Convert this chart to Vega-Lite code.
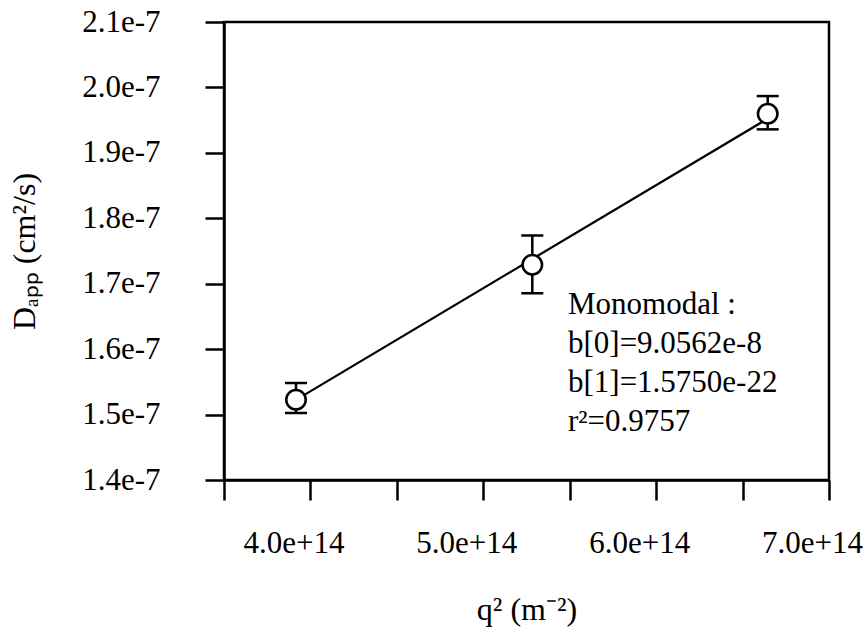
{
  "$schema": "https://vega.github.io/schema/vega-lite/v6.json",
  "width": 605,
  "height": 458,
  "autosize": "none",
  "padding": {"left": 224, "top": 22, "right": 39, "bottom": 148},
  "background": "white",
  "config": {
    "view": {"stroke": "black", "strokeWidth": 2.5},
    "font": "Liberation Serif",
    "axis": {
      "grid": false,
      "domainColor": "black",
      "domainWidth": 2.5,
      "tickColor": "black",
      "tickWidth": 2.5,
      "labelColor": "black",
      "titleColor": "black",
      "labelFont": "Liberation Serif",
      "titleFont": "Liberation Serif",
      "labelFontSize": 31,
      "titleFontSize": 32,
      "titleFontWeight": "normal",
      "labelOverlap": false,
      "labelFlush": false,
      "labelBound": false
    }
  },
  "datasets": {
    "points": [
      {"q2": 3.9165e14, "D": 1.5228e-7, "lo": 1.5025e-7, "hi": 1.5484e-7},
      {"q2": 5.2836e14, "D": 1.7289e-7, "lo": 1.6854e-7, "hi": 1.7737e-7},
      {"q2": 6.6454e14, "D": 1.9599e-7, "lo": 1.9359e-7, "hi": 1.9868e-7}
    ],
    "fit": [
      {"q2": 3.9165e14, "D": 1.5225e-7},
      {"q2": 6.6454e14, "D": 1.9523e-7}
    ],
    "note": [
      {"q2": 5.49e14, "D": 1.6544e-7, "label": "\u00a0\u00a0Monomodal :\nb[0]=9.0562e-8\nb[1]=1.5750e-22\nr²=0.9757"}
    ]
  },
  "encoding": {
    "x": {
      "field": "q2",
      "type": "quantitative",
      "title": "q² (m⁻²)",
      "scale": {"domain": [3.5e14, 7.0e14], "nice": false, "zero": false},
      "axis": {
        "values": [3.5e14, 4.0e14, 4.5e14, 5.0e14, 5.5e14, 6.0e14, 6.5e14, 7.0e14],
        "labelExpr": "datum.value % 1e14 === 0 ? format(datum.value / 1e14, '.1f') + 'e+14' : ''",
        "tickSize": 20,
        "labelPadding": 28,
        "labelOffset": -17,
        "titlePadding": 36
      }
    },
    "y": {
      "field": "D",
      "type": "quantitative",
      "title": "Dₐₚₚ (cm²/s)",
      "scale": {"domain": [1.4e-7, 2.1e-7], "nice": false, "zero": false},
      "axis": {
        "values": [1.4e-7, 1.5e-7, 1.6e-7, 1.7e-7, 1.8e-7, 1.9e-7, 2.0e-7, 2.1e-7],
        "labelExpr": "format(datum.value * 1e7, '.1f') + 'e-7'",
        "tickSize": 19,
        "labelPadding": 45,
        "titlePadding": 40
      }
    }
  },
  "layer": [
    {
      "data": {"name": "fit"},
      "mark": {"type": "line", "color": "black", "strokeWidth": 2.2}
    },
    {
      "data": {"name": "points"},
      "mark": {"type": "rule", "color": "black", "strokeWidth": 2.5},
      "encoding": {
        "y": {"field": "lo", "type": "quantitative", "title": "Dₐₚₚ (cm²/s)"},
        "y2": {"field": "hi"}
      }
    },
    {
      "data": {"name": "points"},
      "mark": {"type": "tick", "orient": "horizontal", "color": "black", "size": 22, "thickness": 2.5, "opacity": 1},
      "encoding": {
        "y": {"field": "lo", "type": "quantitative", "title": "Dₐₚₚ (cm²/s)"}
      }
    },
    {
      "data": {"name": "points"},
      "mark": {"type": "tick", "orient": "horizontal", "color": "black", "size": 22, "thickness": 2.5, "opacity": 1},
      "encoding": {
        "y": {"field": "hi", "type": "quantitative", "title": "Dₐₚₚ (cm²/s)"}
      }
    },
    {
      "data": {"name": "points"},
      "mark": {"type": "point", "shape": "circle", "size": 380, "filled": false, "fill": "white", "fillOpacity": 1, "stroke": "black", "strokeWidth": 2.5, "opacity": 1}
    },
    {
      "data": {"name": "note"},
      "mark": {"type": "text", "align": "left", "baseline": "alphabetic", "fontSize": 31, "lineHeight": 39, "lineBreak": "\n", "font": "Liberation Serif", "color": "black"},
      "encoding": {
        "text": {"field": "label"}
      }
    }
  ]
}
